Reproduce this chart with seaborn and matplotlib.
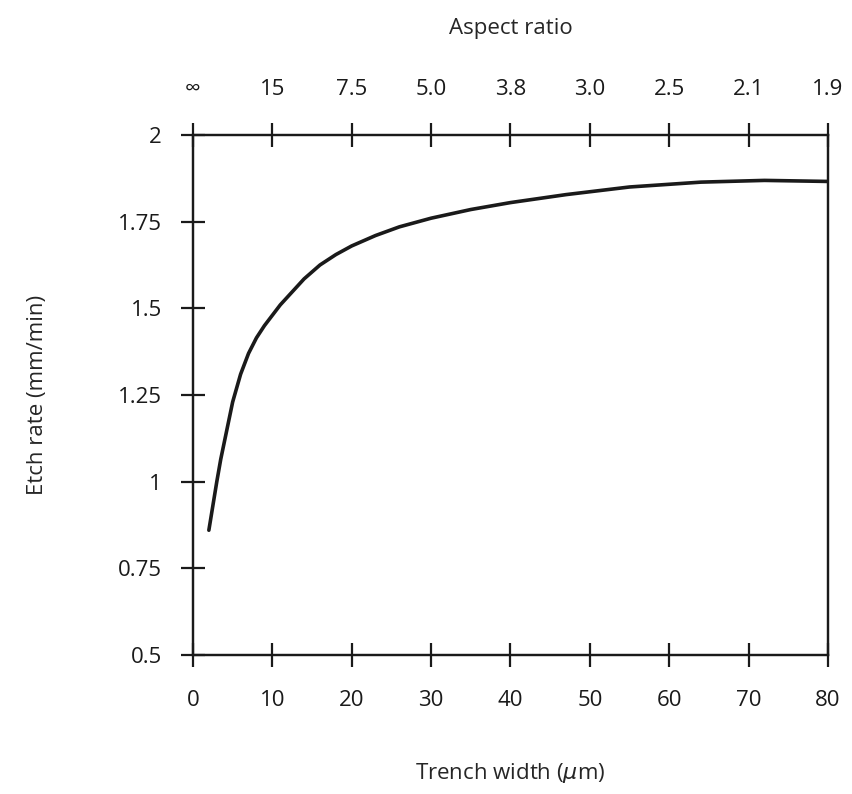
import matplotlib
matplotlib.use("Agg")
import matplotlib.pyplot as plt
import seaborn as sns
import pandas as pd

# values
trench_width = [2, 2.5, 3, 3.5, 4, 5, 6, 7, 8, 9, 10, 11, 12, 14, 16, 18, 20,
                23, 26, 30, 35, 40, 47, 55, 64, 72, 80]
etch_rate = [0.86, 0.93, 1.0, 1.065, 1.12, 1.23, 1.31, 1.37, 1.415, 1.45, 1.48,
             1.51, 1.535, 1.585, 1.625, 1.655, 1.68, 1.71, 1.735, 1.76, 1.785,
             1.805, 1.828, 1.85, 1.864, 1.869, 1.866]

bottom_ticks = [0, 10, 20, 30, 40, 50, 60, 70, 80]
aspect_labels = ["\u221e", "15", "7.5", "5.0", "3.8", "3.0", "2.5", "2.1", "1.9"]
y_ticks = [0.5, 0.75, 1, 1.25, 1.5, 1.75, 2]
y_labels = ["0.5", "0.75", "1", "1.25", "1.5", "1.75", "2"]

sns.set_theme(style="ticks")
plt.rcParams["font.family"] = ["Open Sans", "DejaVu Sans"]

df = pd.DataFrame({"width": trench_width, "rate": etch_rate})

fig = plt.figure(figsize=(8.52, 7.94), dpi=100)
ax = fig.add_axes([0.2265, 0.175, 0.7453, 0.655])

sns.lineplot(data=df, x="width", y="rate", color="#1a1a1a", linewidth=2.6, ax=ax)

ax.set_xlim(0, 80)
ax.set_ylim(0.5, 2)
ax.set_xticks(bottom_ticks)
ax.set_xticklabels([str(t) for t in bottom_ticks])
ax.set_yticks(y_ticks)
ax.set_yticklabels(y_labels)
ax.set_xlabel("Trench width ($\\mu$m)", fontsize=16, labelpad=36)
ax.set_ylabel("Etch rate (mm/min)", fontsize=16, labelpad=50)

for s in ax.spines.values():
    s.set_linewidth(1.6)
    s.set_color("#1a1a1a")

ax.tick_params(axis="both", direction="inout", length=17, width=1.6,
               labelsize=16, color="#1a1a1a", labelcolor="#1a1a1a")
ax.tick_params(axis="x", pad=17)
ax.tick_params(axis="y", pad=14)

top = ax.twiny()
top.set_xlim(ax.get_xlim())
top.set_xticks(bottom_ticks)
top.set_xticklabels(aspect_labels)
top.set_xlabel("Aspect ratio", fontsize=16, labelpad=32)
top.tick_params(axis="x", direction="inout", length=17, width=1.6,
                labelsize=16, pad=17, color="#1a1a1a", labelcolor="#1a1a1a")
for s in top.spines.values():
    s.set_linewidth(1.6)
    s.set_color("#1a1a1a")

fig.savefig("out.png", dpi=100)
